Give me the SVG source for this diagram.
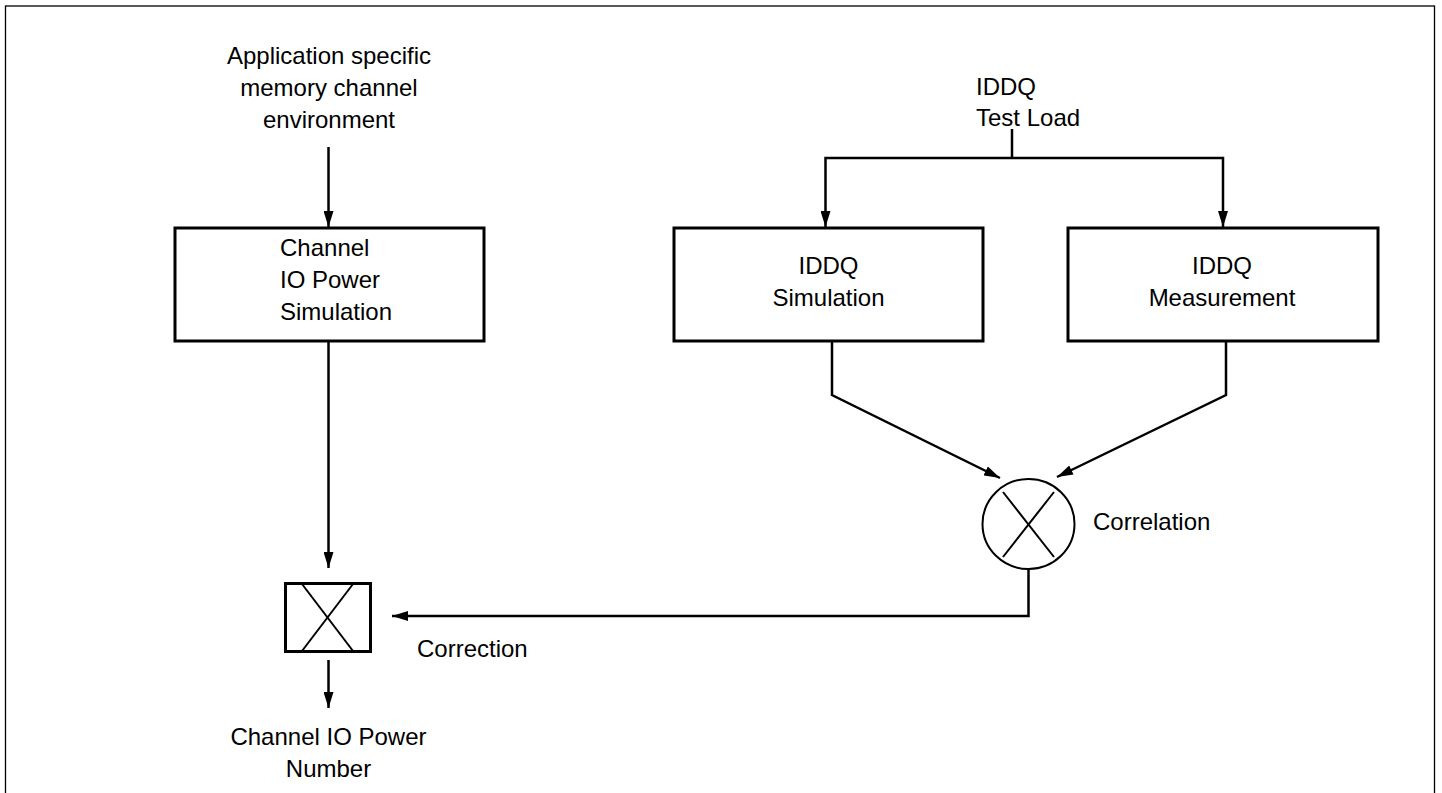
<svg xmlns="http://www.w3.org/2000/svg" width="1442" height="793" viewBox="0 0 1442 793">
<style>
text{font-family:"Liberation Sans",Arial,sans-serif;font-size:24px;fill:#000}
.c{text-anchor:middle}
.box{fill:#fff;stroke:#000;stroke-width:3}
.ln{fill:none;stroke:#000;stroke-width:2.5}
.thin{fill:none;stroke:#000;stroke-width:2}
</style>
<defs>
<marker id="ah" markerUnits="userSpaceOnUse" markerWidth="16" markerHeight="10" refX="16" refY="5" orient="auto">
<path d="M0,0 L16,5 L0,10 z" fill="#000"/>
</marker>
</defs>
<rect x="5.5" y="6" width="1429" height="810" fill="none" stroke="#000" stroke-width="1.3"/>

<g id="connectors">
<line class="ln" x1="328.5" y1="147" x2="328.5" y2="227" marker-end="url(#ah)"/>
<line class="ln" x1="328.5" y1="341" x2="328.5" y2="568" marker-end="url(#ah)"/>
<line class="ln" x1="328.5" y1="660" x2="328.5" y2="708" marker-end="url(#ah)"/>
<polyline class="ln" points="1012,129 1012,158"/>
<polyline class="ln" points="1012,158 825.5,158 825.5,227" marker-end="url(#ah)"/>
<polyline class="ln" points="1012,158 1223,158 1223,227" marker-end="url(#ah)"/>
<polyline class="ln" points="832,341 832,395 1000,478" marker-end="url(#ah)"/>
<polyline class="ln" points="1226,341 1226,395 1057,477" marker-end="url(#ah)"/>
<polyline class="ln" points="1028.5,569 1028.5,616 392,616" marker-end="url(#ah)"/>
</g>

<g id="input-env">
<text class="c" x="329" y="64">Application specific</text>
<text class="c" x="329" y="96">memory channel</text>
<text class="c" x="329" y="128">environment</text>
</g>

<g id="channel-sim">
<rect class="box" x="175" y="228" width="309" height="113"/>
<text x="280" y="256">Channel</text>
<text x="280" y="288">IO Power</text>
<text x="280" y="320">Simulation</text>
</g>

<g id="iddq-load">
<text x="976" y="95">IDDQ</text>
<text x="976" y="126">Test Load</text>
</g>

<g id="iddq-sim">
<rect class="box" x="674" y="228" width="309" height="113"/>
<text class="c" x="828.5" y="274">IDDQ</text>
<text class="c" x="828.5" y="306">Simulation</text>
</g>

<g id="iddq-meas">
<rect class="box" x="1068" y="228" width="310" height="113"/>
<text class="c" x="1222" y="274">IDDQ</text>
<text class="c" x="1222" y="306">Measurement</text>
</g>

<g id="correlation">
<ellipse class="thin" cx="1028.5" cy="524" rx="46" ry="45"/>
<line class="thin" x1="1003" y1="492" x2="1054" y2="557"/>
<line class="thin" x1="1054" y1="492" x2="1003" y2="557"/>
<text x="1093" y="530">Correlation</text>
</g>

<g id="correction-node">
<rect class="box" x="285.5" y="583.5" width="85" height="68"/>
<line class="thin" x1="302" y1="584" x2="353" y2="651"/>
<line class="thin" x1="353" y1="584" x2="302" y2="651"/>
<text x="417" y="657">Correction</text>
</g>

<g id="output">
<text class="c" x="328.5" y="745">Channel IO Power</text>
<text class="c" x="328.5" y="777">Number</text>
</g>
</svg>
